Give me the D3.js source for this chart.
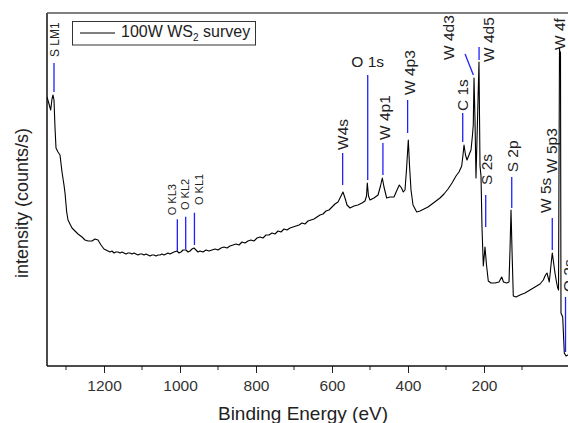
<!DOCTYPE html>
<html>
<head>
<meta charset="utf-8">
<script src="https://cdn.jsdelivr.net/npm/d3@7"></script>
<style>
  body { margin: 0; background: #fff; }
  svg { display: block; font-family: Arial, "Liberation Sans", sans-serif; }
</style>
</head>
<body>
<div id="chart"></div>
<script>
// XPS survey spectrum, 100W WS2 (intensity in a.u.)
const energy = [
  1350, 1344.7, 1340.3, 1336.8, 1334.2, 1331.6, 1329, 1326.3, 1321.1, 1315.8,
  1310.5, 1305.3, 1302.6, 1298.2, 1294.7, 1289.5, 1284.2, 1276.3, 1268.4, 1257.9,
  1250, 1242.1, 1231.6, 1223.7, 1215.8, 1207.9, 1200, 1194.7, 1189.5, 1184.2,
  1178.9, 1173.7, 1168.4, 1163.2, 1157.9, 1152.6, 1147.4, 1142.1, 1136.8, 1131.6,
  1126.3, 1121.1, 1115.8, 1110.5, 1105.3, 1100, 1094.7, 1089.5, 1084.2, 1078.9,
  1073.7, 1068.4, 1063.2, 1057.9, 1052.6, 1047.4, 1042.1, 1036.8, 1031.6, 1026.3,
  1021.1, 1015.8, 1007.9, 1002.6, 997.4, 992.1, 984.2, 978.9, 973.7, 968.4,
  963.2, 957.9, 952.6, 947.4, 939.5, 931.6, 923.7, 915.8, 907.9, 900,
  892.1, 884.2, 876.3, 868.4, 860.5, 852.6, 844.7, 836.8, 828.9, 821.1,
  813.2, 805.3, 797.4, 789.5, 781.6, 773.7, 765.8, 757.9, 750, 742.1,
  734.2, 726.3, 718.4, 710.5, 702.6, 694.7, 686.8, 678.9, 671.1, 663.2,
  655.3, 647.4, 639.5, 631.6, 623.7, 615.8, 607.9, 600, 592.1, 584.2,
  576.3, 571.1, 565.8, 560.5, 552.6, 542.1, 531.6, 521.1, 513.2, 509.2,
  507.1, 504, 500, 489.5, 478.9, 472.4, 467.6, 463.2, 456.1, 447.4,
  436.8, 428.9, 422.9, 417.1, 412.4, 407.9, 404, 399.2, 396.1, 392.1,
  386.8, 377.1, 368.4, 357.9, 347.4, 336.8, 326.3, 315.8, 305.3, 294.7,
  284.2, 273.7, 265.8, 258.7, 255.3, 252.6, 248.7, 244.7, 239.5, 234.2,
  230.3, 228.2, 226.3, 223.7, 221.1, 217.1, 213.2, 210.5, 207.9, 205.3,
  201.8, 199.2, 197.4, 193.4, 188.7, 181.6, 171.1, 160.5, 153.4, 148.7,
  140.3, 134.2, 131.6, 128.9, 126.3, 122.9, 115.8, 105.3, 92.1, 78.9,
  65.8, 52.6, 43.9, 38.2, 34.2, 28.2, 23.7, 20.3, 17.1, 13.2,
  9.2, 6.6, 3.9, 1.3, 0, -1.3, -2.6, -7.1, -11.3, -15.8,
  -21.1, -31.6
];
const counts = [
  269, 262, 256, 267, 271, 266, 239, 218, 214, 211,
  194, 181, 173, 154, 146, 142, 138, 135, 132, 129,
  126, 125, 125, 127, 126, 121, 117, 116, 115, 114,
  115, 113, 114, 114, 113, 114, 113, 112, 113, 113,
  112, 113, 112, 111, 112, 112, 111, 112, 111, 110,
  111, 111, 110, 111, 111, 112, 111, 112, 113, 112,
  113, 114, 115, 113, 114, 116, 116, 114, 115, 117,
  118, 116, 114, 115, 114, 116, 115, 116, 117, 116,
  118, 119, 118, 120, 121, 122, 121, 124, 123, 125,
  126, 125, 128, 129, 128, 131, 131, 133, 132, 135,
  134, 137, 136, 138, 139, 140, 141, 143, 142, 145,
  146, 147, 149, 151, 152, 155, 156, 159, 162, 164,
  170, 174, 168, 161, 158, 160, 161, 163, 165, 170,
  183, 170, 166, 168, 171, 180, 188, 179, 168, 169,
  169, 176, 181, 178, 174, 176, 196, 226, 201, 176,
  161, 154, 155, 157, 159, 162, 165, 168, 172, 177,
  183, 190, 194, 200, 211, 221, 211, 206, 211, 216,
  231, 241, 288, 246, 188, 246, 304, 200, 190, 139,
  100, 111, 119, 101, 85, 83, 83, 84, 89, 84,
  83, 84, 116, 156, 116, 70, 69, 71, 73, 76,
  79, 82, 86, 91, 93, 84, 101, 113, 104, 93,
  84, 79, 76, 318, 311, 314, 53, 49, 13, 10,
  11, 16
];

// peak assignments: position (eV) and the ends of each marker (a.u.)
const peakNames  = ['S LM1', 'O KL3', 'O KL2', 'O KL1', 'W4s', 'O 1s', 'W 4p1', 'W 4p3', 'C 1s',
                    'W 4d3', 'W 4d5', 'S 2s', 'S 2p', 'W 5s', 'W 5p3', 'W 4f', 'O 2s'];
const peakEnergy = [1331.6, 1007, 985, 962, 572, 506, 466, 401, 256,
                    228, 213, 195.5, 127, 20.3, 6.6, 1.3, -14.5];
const markTop    = [303, 146.7, 149.3, 153.3, 213, 291, 223, 266, 253,
                    312, 319, 171, 189, 148, 193, 318, 69];
const markBottom = [274, 115.3, 116.7, 121, 181, 186, 191, 233, 224,
                    291, 306, 139, 158, 116, 193, 318, 14];

const majorTicks = [1200, 1000, 800, 600, 400, 200];
const minorTicks = [1300, 1100, 900, 700, 500, 300, 100];

const W = 568, H = 423;
const margin = { left: 47, top: 13, bottom: 57 };
const plotBottom = H - margin.bottom;

const svg = d3.select('#chart').append('svg')
  .attr('width', W)
  .attr('height', H);

const x = d3.scaleLinear().domain([1350, -60]).range([margin.left, margin.left + 1410 * 0.38]);
const y = d3.scaleLinear().domain([0, 353]).range([plotBottom, margin.top]);

svg.append('clipPath').attr('id', 'plot')
  .append('rect')
  .attr('x', margin.left).attr('y', margin.top)
  .attr('width', 600).attr('height', plotBottom - margin.top);

// x axis, major + minor ticks
const xAxis = g => g
  .attr('transform', `translate(0,${plotBottom})`)
  .call(d3.axisBottom(x).tickValues(majorTicks).tickSize(7).tickPadding(7).tickFormat(d3.format('d')))
  .call(g => g.select('.domain').remove())
  .call(g => g.selectAll('.tick line').attr('stroke', '#222'))
  .call(g => g.selectAll('.tick text').attr('fill', '#333').style('font-size', '15.5px'));

svg.append('g').call(xAxis);

svg.append('g')
  .attr('transform', `translate(0,${plotBottom})`)
  .selectAll('line')
  .data(minorTicks)
  .join('line')
  .attr('x1', d => x(d)).attr('x2', d => x(d))
  .attr('y1', 0).attr('y2', 4)
  .attr('stroke', '#222');

// frame: left, bottom, top
svg.append('line')
  .attr('x1', margin.left).attr('x2', W).attr('y1', plotBottom).attr('y2', plotBottom)
  .attr('stroke', '#111').attr('stroke-width', 1.5);
svg.append('line')
  .attr('x1', margin.left).attr('x2', margin.left).attr('y1', margin.top).attr('y2', plotBottom)
  .attr('stroke', '#111').attr('stroke-width', 1.5);
svg.append('line')
  .attr('x1', margin.left).attr('x2', W).attr('y1', margin.top).attr('y2', margin.top)
  .attr('stroke', '#555').attr('stroke-width', 1.5);

// axis titles
svg.append('text')
  .attr('x', 303).attr('y', 420)
  .attr('text-anchor', 'middle')
  .attr('fill', '#222')
  .style('font-size', '19px')
  .text('Binding Energy (eV)');

svg.append('text')
  .attr('transform', 'translate(28,203) rotate(-90)')
  .attr('text-anchor', 'middle')
  .attr('fill', '#222')
  .style('font-size', '18px')
  .text('intensity (counts/s)');

// label placement tweaks (px): dx from marker, gap above marker top
const nudge = {
  'S LM1': { dx: 5, gap: 6, size: 12 },
  'O KL3': { dx: -1, gap: 4, size: 11 },
  'O KL2': { dx: 3, gap: 6.7, size: 11 },
  'O KL1': { dx: 9, gap: 7.7, size: 11 },
  'W4s':   { dx: 5.5, gap: 3 },
  'O 1s':  { dx: 0, gap: 8, flat: true },
  'W 4p1': { dx: 7, gap: 3 },
  'W 4p3': { dx: 7.5, gap: 5 },
  'C 1s':  { dx: 5.5, gap: 2 },
  'W 4d3': { dx: -11.3, gap: -6, slant: -8.3 },
  'W 4d5': { dx: 14.7, gap: -15 },
  'S 2s':  { dx: 6, gap: 10 },
  'S 2p':  { dx: 6, gap: 4.7 },
  'W 5s':  { dx: -1.3, gap: 5 },
  'W 5p3': { dx: 0, gap: 0 },
  'W 4f':  { dx: 5.5, gap: -2 },
  'O 2s':  { dx: 8.5, gap: 5 }
};

const peaks = peakNames.map((name, i) => ({
  name, e: peakEnergy[i], top: markTop[i], bottom: markBottom[i], ...nudge[name]
}));

const plot = svg.append('g').attr('clip-path', 'url(#plot)');

plot.append('g')
  .selectAll('line')
  .data(peaks.filter(d => d.top !== d.bottom))
  .join('line')
  .attr('x1', d => x(d.e) + (d.slant || 0))
  .attr('x2', d => x(d.e))
  .attr('y1', d => y(d.top))
  .attr('y2', d => y(d.bottom))
  .attr('stroke', '#2020ff')
  .attr('stroke-width', 1.3);

plot.append('path')
  .datum(energy.map((e, i) => [e, counts[i]]))
  .attr('fill', 'none')
  .attr('stroke', '#000')
  .attr('stroke-width', 1.1)
  .attr('stroke-linejoin', 'round')
  .attr('d', d3.line().x(d => x(d[0])).y(d => y(d[1])));

svg.append('g')
  .selectAll('text')
  .data(peaks)
  .join('text')
  .attr('transform', d => {
    const px = x(d.e) + (d.slant || 0) + d.dx;
    const py = y(d.top) - d.gap;
    return d.flat ? `translate(${px},${py})` : `translate(${px},${py}) rotate(-90)`;
  })
  .attr('text-anchor', d => d.flat ? 'middle' : 'start')
  .attr('fill', '#222')
  .style('font-size', d => (d.size || 15.5) + 'px')
  .text(d => d.name);

// legend
const legend = svg.append('g');
legend.append('rect')
  .attr('x', 72.5).attr('y', 21.5).attr('width', 183).attr('height', 23.5)
  .attr('fill', '#fff').attr('stroke', '#333');
legend.append('line')
  .attr('x1', 80).attr('x2', 115).attr('y1', 33).attr('y2', 33)
  .attr('stroke', '#000').attr('stroke-width', 1.1);
const lt = legend.append('text')
  .attr('x', 121).attr('y', 37)
  .attr('fill', '#222')
  .style('font-size', '16px');
lt.append('tspan').text('100W WS');
lt.append('tspan').attr('dy', 4).style('font-size', '10px').text('2');
lt.append('tspan').attr('dy', -4).text(' survey');
</script>
</body>
</html>
